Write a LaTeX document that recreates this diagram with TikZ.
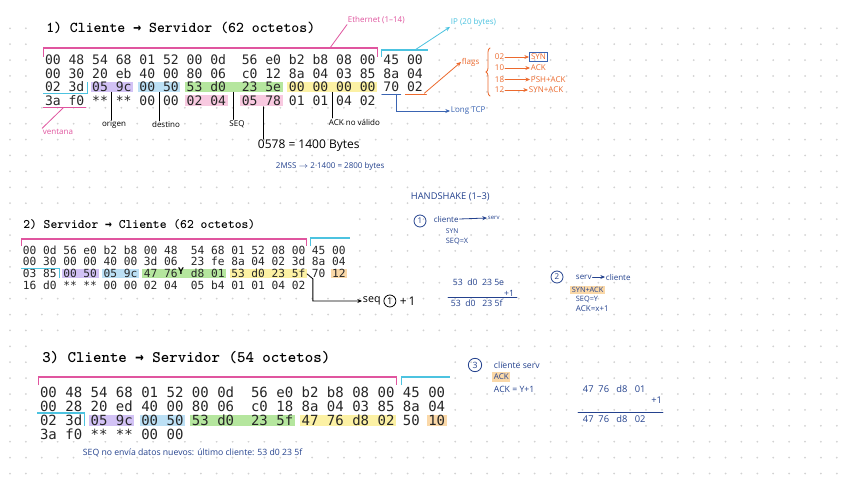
\documentclass[tikz,border=0pt]{standalone}
\usepackage{amsmath}
\usepackage{fontspec}
\setsansfont{Open Sans}
\newfontfamily\hexfont{DejaVu Sans Mono}
\newfontfamily\titlefont{lmmonolt10-bold.otf}
\usetikzlibrary{positioning,calc,arrows.meta,decorations.pathreplacing}

\definecolor{penpink}{HTML}{E0559F}
\definecolor{pencyan}{HTML}{4CC3E0}
\definecolor{penorange}{HTML}{EC6A2E}
\definecolor{penblue}{HTML}{3A64B2}
\definecolor{pennavy}{HTML}{24428E}
\definecolor{hlpurple}{HTML}{D2C2F5}
\definecolor{hlblue}{HTML}{BCE0F5}
\definecolor{hlgreen}{HTML}{B5E69E}
\definecolor{hlyellow}{HTML}{FCF1A4}
\definecolor{hlpink}{HTML}{F8C9E0}
\definecolor{hlorange}{HTML}{FAD8A8}
\definecolor{dotgray}{HTML}{D2D2D2}

\pgfdeclarelayer{bg}
\pgfdeclarelayer{hl}
\pgfsetlayers{bg,hl,main}

\tikzset{
  hexbyte/.style={inner xsep=1pt, inner ysep=0pt, text depth=0.2pt, anchor=center, text=black!85},
  hexA/.style={hexbyte, text height=7.25pt, font=\hexfont\fontsize{9.8}{11}\selectfont},
  hexB/.style={hexbyte, text height=6.2pt, font=\hexfont\fontsize{8.4}{10}\selectfont},
  hexC/.style={hexbyte, text height=7.8pt, font=\hexfont\fontsize{10.5}{12}\selectfont},
  title/.style={anchor=west, inner sep=0pt},
  hand/.style={inner sep=0.5pt, font=\sffamily\fontsize{6}{7}\selectfont},
  ink/.style={line width=0.6pt, line cap=round},
  arrowhd/.style={-{Stealth[length=3.5pt,width=3pt]}},
  bracketeth/.style={draw=penpink, line width=0.8pt},
  bracketip/.style={draw=pencyan, line width=0.8pt},
  circled/.style={circle, draw, line width=0.6pt, inner sep=0pt, minimum size=9pt},
}

\newcommand{\hexrows}[7]{%
  \foreach \r/\rowbytes in {#7} {
    \foreach \hb [count=\k from 0] in \rowbytes {
      \pgfmathsetmacro{\bx}{#3+#5*(3*\k+1)+(\k>7)*#5}
      \pgfmathsetmacro{\by}{#4+(\r-1)*#6}
      \node[#2] (#1-\r-\k) at (\bx,\by) {\hb};
    }
  }}
\newcommand{\hlbytes}[3]{\fill[#1] (#2.north west) rectangle (#3.south east);}
\newcommand{\tarrow}{\makebox[0.525em]{\hexfont\bfseries\scalebox{0.87}[1]{→}}}

\begin{document}
\begin{tikzpicture}[x=0.75pt,y=-0.75pt]
\begin{pgfonlayer}{bg}
  \fill[white] (0,0) rectangle (848,488);
  \foreach \i in {0,...,52} {
    \foreach \j in {0,...,28} {
      \fill[dotgray] (10+15.9*\i,28.3+15.9*\j) circle (0.75pt);
    }
  }
  \fill[white] (33,10) rectangle (428,106);
  \fill[white] (18,212) rectangle (352,293);
  \fill[white] (36,343) rectangle (446,441);
\end{pgfonlayer}
\useasboundingbox (0,0) rectangle (848,488);

% 1) Cliente -> Servidor
\node[title, font=\titlefont\fontsize{11.3}{13}\selectfont] (t1) at (46,28) {1) Cliente \tarrow{} Servidor (62 octetos)};
\hexrows{s1}{hexA}{45}{60}{7.87}{13.5}{1/{00,48,54,68,01,52,00,0d,56,e0,b2,b8,08,00,45,00},
  2/{00,30,20,eb,40,00,80,06,c0,12,8a,04,03,85,8a,04},
  3/{02,3d,05,9c,00,50,53,d0,23,5e,00,00,00,00,70,02},
  4/{3a,f0,**,**,00,00,02,04,05,78,01,01,04,02}}
\begin{pgfonlayer}{hl}
  \hlbytes{hlpurple}{s1-3-2}{s1-3-3}
  \hlbytes{hlblue}{s1-3-4}{s1-3-5}
  \hlbytes{hlgreen}{s1-3-6}{s1-3-9}
  \hlbytes{hlyellow}{s1-3-10}{s1-3-13}
  \hlbytes{hlpink}{s1-4-6}{s1-4-7}
  \hlbytes{hlpink}{s1-4-8}{s1-4-9}
\end{pgfonlayer}
\draw[bracketeth] ($(s1-1-0.west)+(0,-3)$) |- ($(s1-1-13.east)+(0,-12)$) -- ($(s1-1-13.east)+(0,-3)$);
\draw[bracketip] ($(s1-1-14.west)+(0,-3)$) |- ($(s1-1-15.east)+(4,-10)$);
\draw[bracketip] ($(s1-3-0.south west)+(0,1)$) -| ($(s1-3-1.north east)+(2,0)$);
\node[hand, text=penpink, anchor=west] (ethl) at (347,20) {Ethernet (1--14)};
\node[hand, text=pencyan, anchor=west] (ipl) at (450,22) {IP (20 bytes)};
\draw[penpink, ink] ($(s1-1-11.east)+(0,-12)$) -- (ethl.south west);
\draw[pencyan, ink, arrowhd] ($(s1-1-15)+(0,-10)$) -- (ipl.south west);

\node[hand, text=penblue, anchor=west] (lngl) at (450,111) {Long TCP};
\draw[penblue, ink] ($(s1-3-14.south west)+(0,2)$) -- ($(s1-3-14.south east)+(0,2)$);
\draw[penblue, ink, arrowhd] ($(s1-3-14.south)+(5,2)$) |- (lngl.west);
\node[hand, text=penorange, anchor=west] (flg) at (461,62) {flags};
\draw[penorange, ink] ($(s1-3-15.south west)+(0,2)$) -- ($(s1-3-15.south east)+(2,2)$);
\draw[penorange, ink, arrowhd] ($(s1-3-15.south east)+(0,1)$) -- (flg.west);
\draw[penorange, ink, decorate, decoration={brace, amplitude=3pt}] (490,96) -- (490,48);
\node[hand, text=penorange, anchor=west] (f02) at (494,57) {02};
\node[hand, text=penorange, anchor=west] (f10) at (494,68) {10};
\node[hand, text=penorange, anchor=west] (f18) at (494,79.5) {18};
\node[hand, text=penorange, anchor=west] (f12) at (494,90) {12};
\node[hand, text=penorange, anchor=west, draw=penblue, line width=0.6pt, inner sep=1.2pt] (synf) at (529,57) {SYN};
\node[hand, text=penorange, anchor=west] (ackf) at (530,68) {ACK};
\node[hand, text=penorange, anchor=west] (pshf) at (530,79.5) {PSH+ACK};
\node[hand, text=penorange, anchor=west] (synackf) at (528,90) {SYN+ACK};
\draw[penorange, ink, arrowhd] (f02.east) -- (synf.west);
\draw[penorange, ink, arrowhd] (f10.east) -- (ackf.west);
\draw[penorange, ink, arrowhd] (f18.east) -- (pshf.west);
\draw[penorange, ink, arrowhd] (f12.east) -- (synackf.west);

\node[hand, text=penpink] (vent) at (58,132) {ventana};
\draw[penpink, ink] ($(s1-4-0.south west)+(0,2)$) -- ($(s1-4-1.south east)+(0,2)$);
\draw[penpink, ink] ($(s1-4-0.south east)+(1,2)$) -- (vent.north west);
\node[hand] (org) at (114,125) {origen};
\node[hand] (dst) at (166,125) {destino};
\node[hand] (seql) at (237,124) {SEQ};
\node[hand, anchor=west] (ackl) at (328,122) {ACK no válido};
\draw[ink] ($(s1-3-2.south east)!.5!(s1-3-3.south west)$) coordinate (o1) -- (o1 |- org.north);
\draw[ink] ($(s1-3-4.south east)!.5!(s1-3-5.south west)$) coordinate (o2) -- (o2 |- dst.north);
\draw[ink] ($(s1-3-7.south east)!.5!(s1-3-8.south west)$) coordinate (o3) -- (o3 |- seql.north);
\draw[ink] ($(s1-3-11.south east)!.5!(s1-3-12.south west)$) coordinate (o4) -- (o4 |- ackl.north);
\node[hand, anchor=west, font=\sffamily\fontsize{9}{10}\selectfont] (mssb) at (257,146) {0578 = 1400 Bytes};
\draw[ink] ($(s1-4-9.south west)+(0,1)$) coordinate (o5) -- (o5 |- mssb.north);
\node[hand, text=pennavy, anchor=west] (mss2) at (275,166) {2MSS $\rightarrow$ 2·1400 = 2800 bytes};

% 2) Servidor -> Cliente
\node[title, font=\titlefont\fontsize{9.75}{11}\selectfont] (t2) at (23,225) {2) Servidor \tarrow{} Cliente (62 octetos)};
\hexrows{s2}{hexB}{23}{250}{6.72}{11.9}{1/{00,0d,56,e0,b2,b8,00,48,54,68,01,52,08,00,45,00},
  2/{00,30,00,00,40,00,3d,06,23,fe,8a,04,02,3d,8a,04},
  3/{03,85,00,50,05,9c,47,76,d8,01,53,d0,23,5f,70,12},
  4/{16,d0,**,**,00,00,02,04,05,b4,01,01,04,02}}
\begin{pgfonlayer}{hl}
  \hlbytes{hlpurple}{s2-3-2}{s2-3-3}
  \hlbytes{hlblue}{s2-3-4}{s2-3-5}
  \hlbytes{hlgreen}{s2-3-6}{s2-3-9}
  \hlbytes{hlyellow}{s2-3-10}{s2-3-13}
  \hlbytes{hlorange}{s2-3-15}{s2-3-15}
\end{pgfonlayer}
\draw[bracketeth] ($(s2-1-0.west)+(0,-4)$) |- ($(s2-1-13.east)+(0,-11)$) -- ($(s2-1-13.east)+(0,-4)$);
\draw[bracketip] ($(s2-1-14.west)+(0,-4)$) |- ($(s2-1-15.east)+(3,-12)$);
\draw[bracketip] ($(s2-3-0.north west)+(0,-1)$) -| ($(s2-3-1.south east)+(1,0)$);
\node[hand, font=\sffamily\bfseries\fontsize{7}{8}\selectfont] (ymk) at (181,271.5) {Y};
\node[hand, anchor=west, font=\sffamily\fontsize{8}{9}\selectfont] (seqn) at (362,301) {seq};
\node[circled, right=1.5pt of seqn, font=\sffamily\fontsize{7}{8}\selectfont] (sq1) {1};
\node[hand, right=2pt of sq1, font=\sffamily\fontsize{9}{10}\selectfont] (sqp) {+\,1};
\draw[ink, arrowhd] (s2-3-13.east) -- ++(6,5) |- (seqn.west);

% 3) Cliente -> Servidor
\node[title, font=\titlefont\fontsize{12.1}{14}\selectfont] (t3) at (42,358) {3) Cliente \tarrow{} Servidor (54 octetos)};
\hexrows{s3}{hexC}{40}{392}{8.44}{14.3}{1/{00,48,54,68,01,52,00,0d,56,e0,b2,b8,08,00,45,00},
  2/{00,28,20,ed,40,00,80,06,c0,18,8a,04,03,85,8a,04},
  3/{02,3d,05,9c,00,50,53,d0,23,5f,47,76,d8,02,50,10},
  4/{3a,f0,**,**,00,00}}
\begin{pgfonlayer}{hl}
  \hlbytes{hlpurple}{s3-3-2}{s3-3-3}
  \hlbytes{hlblue}{s3-3-4}{s3-3-5}
  \hlbytes{hlgreen}{s3-3-6}{s3-3-9}
  \hlbytes{hlyellow}{s3-3-10}{s3-3-13}
  \hlbytes{hlorange}{s3-3-15}{s3-3-15}
\end{pgfonlayer}
\draw[bracketeth] ($(s3-1-0.west)+(0,-7)$) |- ($(s3-1-13.east)+(0,-15)$) -- ($(s3-1-13.east)+(0,-7)$);
\draw[bracketip] ($(s3-1-14.west)+(0,-7)$) |- ($(s3-1-15.east)+(3,-15)$);
\draw[bracketip] ($(s3-3-0.north west)+(-1,-2)$) -| ($(s3-3-1.south east)+(1,0)$);
\node[hand, text=pennavy, anchor=west, font=\sffamily\fontsize{6.5}{7}\selectfont] (s3note) at (82,453) {SEQ no envía datos nuevos: último cliente: 53 d0 23 5f};

% handshake
\node[hand, text=pennavy, anchor=west, font=\sffamily\fontsize{7}{8}\selectfont] (hs) at (410,197) {HANDSHAKE (1--3)};
\node[circled, draw=pennavy, text=pennavy, font=\sffamily\fontsize{6}{7}\selectfont] (hc1) at (420,221) {1};
\node[hand, text=pennavy, anchor=west] (cl1) at (433,219) {cliente};
\node[hand, text=pennavy, anchor=west, font=\sffamily\fontsize{4.5}{5}\selectfont] (sv1) at (487,218) {serv};
\draw[pennavy, ink, arrowhd] (cl1.east) -- (sv1.west);
\node[hand, text=pennavy, anchor=west, font=\sffamily\fontsize{5}{6}\selectfont] (syn1) at (445,231) {SYN};
\node[hand, text=pennavy, anchor=west, font=\sffamily\fontsize{5.5}{6}\selectfont] (seqx) at (445,241) {SEQ=X};

\node[hand, text=pennavy, anchor=west, font=\sffamily\fontsize{6.5}{7}\selectfont] (sum1a) at (452,282) {53\ \ d0\ \ 23\ 5e};
\node[hand, text=pennavy, anchor=east, font=\sffamily\fontsize{6.5}{7}\selectfont] (sum1b) at (515,293) {+1};
\node[hand, text=pennavy, anchor=west, font=\sffamily\fontsize{6.5}{7}\selectfont] (sum1c) at (450,303) {53\ \ d0\ \ \ 23\ 5f};
\draw[pennavy, ink] (448,297.5) -- (517,297.5);

\node[circled, draw=pennavy, text=pennavy, font=\sffamily\fontsize{6}{7}\selectfont] (hc2) at (557,277) {2};
\node[hand, text=pennavy, anchor=west] (sv2) at (575,277) {serv};
\node[hand, text=pennavy, anchor=west] (cl2) at (605,277) {cliente};
\draw[pennavy, ink, arrowhd] (sv2.east) -- (cl2.west);
\node[hand, text=pennavy, anchor=west, fill=hlorange, inner sep=1.2pt, font=\sffamily\fontsize{5.5}{6}\selectfont] (sa2) at (570,290) {SYN+ACK};
\node[hand, text=pennavy, anchor=west, font=\sffamily\fontsize{5.5}{6}\selectfont] (seqy) at (575,299) {SEQ=Y};
\node[hand, text=pennavy, anchor=west] (ackx) at (575,308.5) {ACK=x+1};

\node[circled, draw=pennavy, text=pennavy, font=\sffamily\fontsize{6.5}{7}\selectfont, minimum size=10pt] (hc3) at (475,365) {3};
\node[hand, text=pennavy, anchor=west, font=\sffamily\fontsize{6.5}{7}\selectfont] (cs3) at (493,365) {cliente serv};
\node[hand, text=pennavy, anchor=west, fill=hlorange, inner sep=1.2pt] (ack3) at (492,377) {ACK};
\node[hand, text=pennavy, anchor=west, font=\sffamily\fontsize{6.5}{7}\selectfont] (acky) at (493,389) {ACK = Y+1};
\node[hand, text=pennavy, anchor=west, font=\sffamily\fontsize{7}{8}\selectfont] (sum2a) at (582,389) {47\ \ 76\ \ \ d8\ \ \ 01};
\node[hand, text=pennavy, anchor=east, font=\sffamily\fontsize{7}{8}\selectfont] (sum2b) at (663,400) {+1};
\node[hand, text=pennavy, anchor=west, font=\sffamily\fontsize{7}{8}\selectfont] (sum2c) at (582,419) {47\ \ 76\ \ \ d8\ \ \ 02};
\draw[pennavy, ink] (578,412) -- (663,412);
\end{tikzpicture}
\end{document}
